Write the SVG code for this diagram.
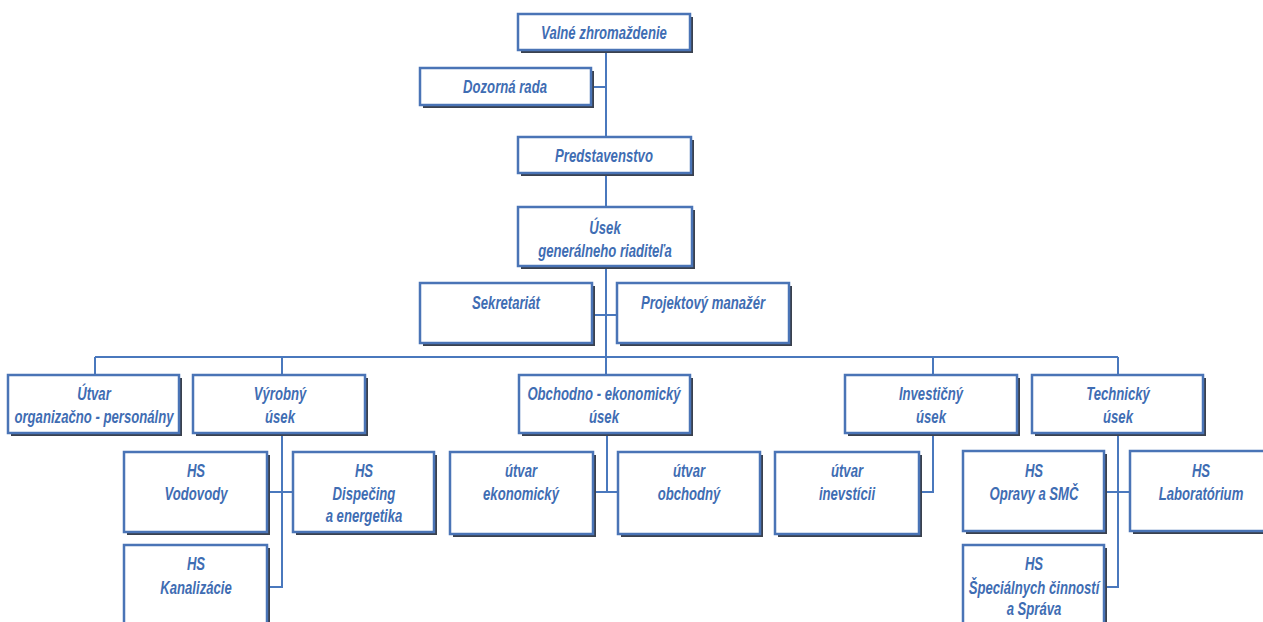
<svg xmlns="http://www.w3.org/2000/svg" width="1263" height="622" viewBox="0 0 1263 622">
<defs>
<style>
.sh{fill:#3a414e}
.box{fill:#fff;stroke:#4a74b6;stroke-width:2.5}
.c{fill:none;stroke:#4a78bd;stroke-width:2}
text{font-family:"Liberation Sans",Arial,sans-serif;font-weight:bold;font-style:italic;font-size:18px;fill:#3f6db3;text-anchor:middle}
</style>
</defs>
<rect width="1263" height="622" fill="#fff"/>
<g id="connectors">
<path class="c" d="M606 50V137M594 87H606M606 173V207M606 266V375M594 315H617M95 357H1118M95 357V375M282 357V375M933 357V375M1118 357V375"/>
<path class="c" d="M282 433V587H270M270 492H293"/>
<path class="c" d="M607 433V492M596 492H618"/>
<path class="c" d="M933 433V492H922"/>
<path class="c" d="M1118 433V587H1107M1107 492H1130"/>
</g>
<g id="valne"><rect class="sh" x="521" y="17" width="172" height="36"/><rect class="box" x="518" y="14" width="172" height="36"/><text transform="matrix(0.73 0 0 1 604 39)">Valné zhromaždenie</text></g>
<g id="dozorna"><rect class="sh" x="423" y="71" width="171" height="37"/><rect class="box" x="420" y="68" width="171" height="37"/><text transform="matrix(0.73 0 0 1 505 93)">Dozorná rada</text></g>
<g id="predstavenstvo"><rect class="sh" x="521" y="140" width="173" height="36"/><rect class="box" x="518" y="137" width="173" height="36"/><text transform="matrix(0.73 0 0 1 604 162)">Predstavenstvo</text></g>
<g id="usek-gr"><rect class="sh" x="521" y="210" width="174" height="59"/><rect class="box" x="518" y="207" width="174" height="59"/><text transform="matrix(0.73 0 0 1 605 234)">Úsek</text><text transform="matrix(0.73 0 0 1 605 257)">generálneho riaditeľa</text></g>
<g id="sekretariat"><rect class="sh" x="423" y="286" width="172" height="60"/><rect class="box" x="420" y="283" width="172" height="60"/><text transform="matrix(0.73 0 0 1 506 309)">Sekretariát</text></g>
<g id="projektovy"><rect class="sh" x="620" y="286" width="172" height="60"/><rect class="box" x="617" y="283" width="172" height="60"/><text transform="matrix(0.73 0 0 1 703 309)">Projektový manažér</text></g>
<g id="utvar-org"><rect class="sh" x="11" y="378" width="171" height="58"/><rect class="box" x="8" y="375" width="171" height="58"/><text transform="matrix(0.73 0 0 1 94 400)">Útvar</text><text transform="matrix(0.73 0 0 1 94 423)">organizačno - personálny</text></g>
<g id="vyrobny"><rect class="sh" x="196" y="378" width="172" height="58"/><rect class="box" x="193" y="375" width="172" height="58"/><text transform="matrix(0.73 0 0 1 280 400)">Výrobný</text><text transform="matrix(0.73 0 0 1 280 423)">úsek</text></g>
<g id="obchodno"><rect class="sh" x="522" y="378" width="171" height="58"/><rect class="box" x="519" y="375" width="171" height="58"/><text transform="matrix(0.73 0 0 1 604 400)">Obchodno - ekonomický</text><text transform="matrix(0.73 0 0 1 604 423)">úsek</text></g>
<g id="investicny"><rect class="sh" x="848" y="378" width="172" height="58"/><rect class="box" x="845" y="375" width="172" height="58"/><text transform="matrix(0.73 0 0 1 931 400)">Investičný</text><text transform="matrix(0.73 0 0 1 931 423)">úsek</text></g>
<g id="technicky"><rect class="sh" x="1035" y="378" width="171" height="58"/><rect class="box" x="1032" y="375" width="171" height="58"/><text transform="matrix(0.73 0 0 1 1118 400)">Technický</text><text transform="matrix(0.73 0 0 1 1118 423)">úsek</text></g>
<g id="vodovody"><rect class="sh" x="127" y="455" width="143" height="80"/><rect class="box" x="124" y="452" width="143" height="80"/><text transform="matrix(0.73 0 0 1 196 477)">HS</text><text transform="matrix(0.73 0 0 1 196 500)">Vodovody</text></g>
<g id="dispecing"><rect class="sh" x="296" y="455" width="141" height="80"/><rect class="box" x="293" y="452" width="141" height="80"/><text transform="matrix(0.73 0 0 1 364 477)">HS</text><text transform="matrix(0.73 0 0 1 364 500)">Dispečing</text><text transform="matrix(0.73 0 0 1 364 522)">a energetika</text></g>
<g id="kanalizacie"><rect class="sh" x="127" y="548" width="143" height="80"/><rect class="box" x="124" y="545" width="143" height="80"/><text transform="matrix(0.73 0 0 1 196 570)">HS</text><text transform="matrix(0.73 0 0 1 196 594)">Kanalizácie</text></g>
<g id="ekonomicky"><rect class="sh" x="453" y="455" width="143" height="82"/><rect class="box" x="450" y="452" width="143" height="82"/><text transform="matrix(0.73 0 0 1 521 477)">útvar</text><text transform="matrix(0.73 0 0 1 521 500)">ekonomický</text></g>
<g id="obchodny"><rect class="sh" x="621" y="455" width="142" height="82"/><rect class="box" x="618" y="452" width="142" height="82"/><text transform="matrix(0.73 0 0 1 689 477)">útvar</text><text transform="matrix(0.73 0 0 1 689 500)">obchodný</text></g>
<g id="investicii"><rect class="sh" x="778" y="455" width="144" height="82"/><rect class="box" x="775" y="452" width="144" height="82"/><text transform="matrix(0.73 0 0 1 847 477)">útvar</text><text transform="matrix(0.73 0 0 1 847 500)">inevstícii</text></g>
<g id="opravy"><rect class="sh" x="966" y="454" width="141" height="80"/><rect class="box" x="963" y="451" width="141" height="80"/><text transform="matrix(0.73 0 0 1 1034 477)">HS</text><text transform="matrix(0.73 0 0 1 1034 500)">Opravy a SMČ</text></g>
<g id="laboratorium"><rect class="sh" x="1133" y="454" width="140" height="80"/><rect class="box" x="1130" y="451" width="140" height="80"/><text transform="matrix(0.73 0 0 1 1201 477)">HS</text><text transform="matrix(0.73 0 0 1 1201 500)">Laboratórium</text></g>
<g id="specialnych"><rect class="sh" x="966" y="548" width="141" height="80"/><rect class="box" x="963" y="545" width="141" height="80"/><text transform="matrix(0.73 0 0 1 1034 570)">HS</text><text transform="matrix(0.73 0 0 1 1034 594)">Špeciálnych činností</text><text transform="matrix(0.73 0 0 1 1034 615)">a Správa</text></g>
</svg>
